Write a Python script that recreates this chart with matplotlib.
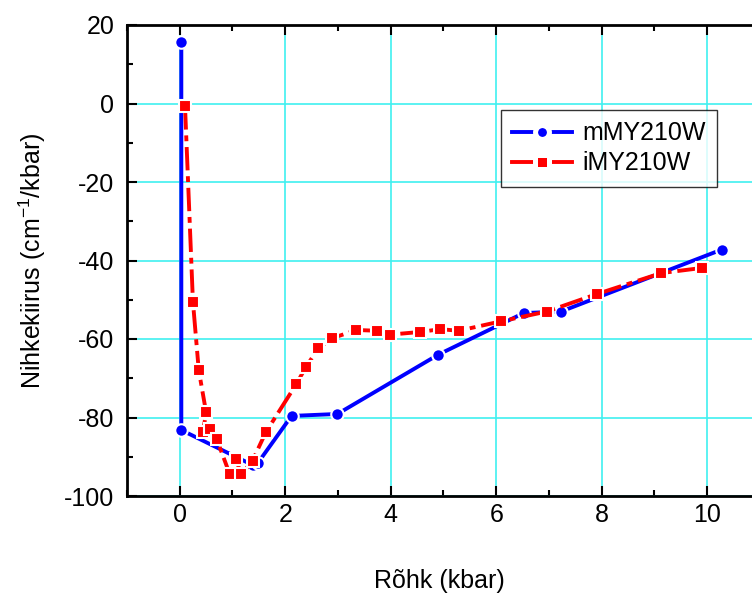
import matplotlib
matplotlib.use("Agg")
import matplotlib.pyplot as plt
from matplotlib.ticker import MultipleLocator
from matplotlib.lines import Line2D

plt.rcParams['font.family'] = ['Liberation Sans', 'DejaVu Sans']
plt.rcParams['axes.unicode_minus'] = False
plt.rcParams['mathtext.fontset'] = 'custom'
plt.rcParams['mathtext.rm'] = 'Liberation Sans'
plt.rcParams['mathtext.default'] = 'regular'

m_x = [0.03, 0.03, 1.38, 1.48, 2.12, 2.99, 4.90, 6.52, 7.23, 10.28]
m_y = [15.6, -83.2, -92.1, -91.6, -79.6, -79.1, -64.0, -53.4, -53.0, -37.2]

i_x = [0.10, 0.25, 0.36, 0.50, 0.44, 0.57, 0.70, 0.95, 1.06, 1.17, 1.38, 1.63,
       2.21, 2.39, 2.63, 2.89, 3.35, 3.74, 3.98, 4.56, 4.94, 5.29, 6.09, 6.96,
       7.92, 9.13, 9.90]
i_y = [-0.7, -50.5, -67.9, -78.7, -83.8, -82.9, -85.5, -94.5, -90.6, -94.5, -91.0, -83.8,
       -71.5, -67.2, -62.3, -59.8, -57.7, -57.9, -58.9, -58.2, -57.5, -57.9, -55.5, -53.0,
       -48.5, -43.2, -41.9]

fig = plt.figure(figsize=(7.52, 5.94), dpi=100)
ax = fig.add_axes([127/752, 1-496/594, 1-127/752, (496-25)/594])

ax.plot(m_x, m_y, color='#0000ff', lw=2.8, marker='o', ms=9, mfc='#0000ff',
        mec='white', mew=1.5, zorder=3)
ax.plot(i_x, i_y, color='#ff0000', lw=2.8, ls=(0, (6, 1.5, 1.5, 1.5)), marker='s', ms=8.5,
        mfc='#ff0000', mec='white', mew=1.5, zorder=4)

ax.set_xlim(-1, 10.85)
ax.set_ylim(-100, 20)
ax.xaxis.set_major_locator(MultipleLocator(2))
ax.xaxis.set_minor_locator(MultipleLocator(1))
ax.yaxis.set_major_locator(MultipleLocator(20))
ax.yaxis.set_minor_locator(MultipleLocator(10))
ax.grid(True, which='major', color='#40f0f0', lw=1.2, zorder=0)
ax.set_axisbelow(True)
ax.tick_params(which='both', direction='in', top=True, right=False, labelsize=18, width=1.5)
ax.tick_params(which='major', length=7)
ax.tick_params(which='minor', length=4)
ax.tick_params(axis='x', which='major', pad=5)
ax.tick_params(axis='y', which='major', pad=9)
ax.spines['right'].set_visible(False)
for s in ['left', 'bottom', 'top']:
    ax.spines[s].set_linewidth(2)

ax.set_xlabel('Rõhk (kbar)', fontsize=18, labelpad=30)
ax.set_ylabel('Nihkekiirus (cm$^{-1}$/kbar)', fontsize=18, labelpad=12)

handles = [
    Line2D([], [], color='#0000ff', lw=2.8, marker='o', ms=10, mfc='#0000ff',
           mec='white', mew=3.6),
    Line2D([], [], color='#ff0000', lw=2.8, marker='s', ms=9.5, mfc='#ff0000',
           mec='white', mew=3.6),
]
leg = ax.legend(handles, ['mMY210W', 'iMY210W'], loc='upper left',
                bbox_to_anchor=((501-127)/625, 1-(110-25)/471),
                fontsize=18, frameon=True, fancybox=False, edgecolor='black',
                handlelength=2.4, borderpad=0.45, labelspacing=0.25, handletextpad=0.4,
                borderaxespad=0)
leg.get_frame().set_linewidth(1.0)

fig.savefig('out.png', dpi=100)
